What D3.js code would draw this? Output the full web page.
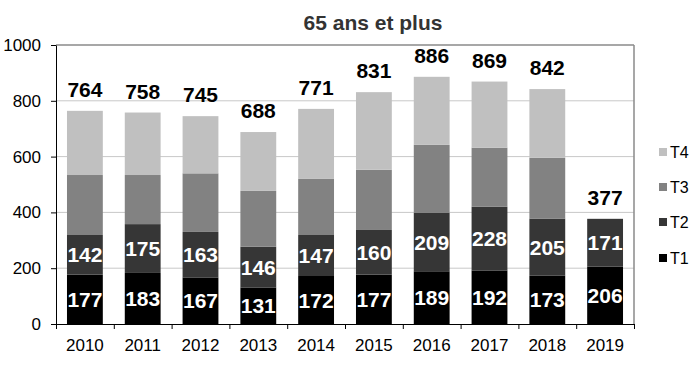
<!DOCTYPE html>
<html>
<head>
<meta charset="utf-8">
<script src="https://cdn.jsdelivr.net/npm/d3@7"></script>
<style>
  body { margin: 0; background: #fff; }
  svg { font-family: "Liberation Sans", Arial, sans-serif; }
  .tick text { fill: #000; }
</style>
</head>
<body>
<div id="chart"></div>
<script>
// données
const years = ["2010", "2011", "2012", "2013", "2014", "2015", "2016", "2017", "2018", "2019"];
const t1 = [177, 183, 167, 131, 172, 177, 189, 192, 173, 206];
const t2 = [142, 175, 163, 146, 147, 160, 209, 228, 205, 171];
const t3 = [215, 176, 210, 200, 201, 216, 244, 212, 218, 0];
const t4 = [230, 224, 205, 211, 251, 278, 244, 237, 246, 0];
const seriesNames = ["T1", "T2", "T3", "T4"];
const colors = ["#000000", "#363636", "#828282", "#c0c0c0"];
const yTicks = [0, 200, 400, 600, 800, 1000];

const width = 700, height = 380;
const margin = { top: 45, right: 66, bottom: 56, left: 56 };
const w = width - margin.left - margin.right;
const h = height - margin.top - margin.bottom;

const rows = years.map((y, i) => ({ year: y, T1: t1[i], T2: t2[i], T3: t3[i], T4: t4[i] }));
const stacked = d3.stack().keys(seriesNames)(rows);

const svg = d3.select("#chart").append("svg")
    .attr("width", width)
    .attr("height", height);

svg.append("text")
    .attr("x", 373)
    .attr("y", 30)
    .attr("text-anchor", "middle")
    .attr("font-size", 21)
    .attr("font-weight", "bold")
    .attr("fill", "#333")
    .text("65 ans et plus");

const g = svg.append("g").attr("transform", `translate(${margin.left},${margin.top})`);

const x = d3.scaleBand().domain(years).range([0, w]).paddingInner(0.38).paddingOuter(0.19);
const y = d3.scaleLinear().domain([0, 1000]).range([h, 0]);

// grille
g.selectAll(".grid")
    .data(yTicks.filter(d => d > 0 && d < 1000))
    .enter().append("line")
    .attr("x1", 0).attr("x2", w)
    .attr("y1", d => y(d)).attr("y2", d => y(d))
    .attr("stroke", "#c8c8c8");

// cadre gris
g.append("line").attr("x1", 0).attr("x2", w).attr("y1", y(1000)).attr("y2", y(1000))
    .attr("stroke", "#8a8a8a").attr("stroke-width", 1.5);
g.append("line").attr("x1", w).attr("x2", w).attr("y1", 0).attr("y2", h)
    .attr("stroke", "#8a8a8a").attr("stroke-width", 1.5);

// barres
g.selectAll(".layer")
    .data(stacked)
    .enter().append("g")
    .attr("fill", (d, i) => colors[i])
    .selectAll("rect")
    .data(d => d)
    .enter().append("rect")
    .attr("x", d => x(d.data.year))
    .attr("y", d => y(d[1]))
    .attr("width", x.bandwidth())
    .attr("height", d => y(d[0]) - y(d[1]));

// étiquettes T1 et T2
stacked.slice(0, 2).forEach(layer => {
    g.selectAll(null)
        .data(layer)
        .enter().append("text")
        .attr("x", d => x(d.data.year) + x.bandwidth() / 2)
        .attr("y", d => (y(d[0]) + y(d[1])) / 2)
        .attr("dy", "0.36em")
        .attr("text-anchor", "middle")
        .attr("font-size", 21)
        .attr("font-weight", "bold")
        .attr("fill", "#fff")
        .text(d => d[1] - d[0]);
});

// totaux
g.selectAll(".total")
    .data(stacked[3])
    .enter().append("text")
    .attr("x", d => x(d.data.year) + x.bandwidth() / 2)
    .attr("y", d => y(d[1]) - 14)
    .attr("text-anchor", "middle")
    .attr("font-size", 21)
    .attr("font-weight", "bold")
    .attr("fill", "#000")
    .text(d => d[1]);

// axe Y
const yAxis = g.append("g")
    .call(d3.axisLeft(y).tickValues(yTicks).tickFormat(d3.format("d"))
        .tickSize(5).tickSizeOuter(0).tickPadding(10));
yAxis.selectAll("text").attr("font-size", 17);
yAxis.select(".domain").attr("stroke", "#000");

// axe X : graduations entre les catégories
const xb = d3.scaleLinear().domain([0, years.length]).range([0, w]);
g.append("g")
    .attr("transform", `translate(0,${h})`)
    .call(d3.axisBottom(xb).ticks(years.length).tickSize(5).tickSizeOuter(0).tickFormat(""))
    .select(".domain").attr("stroke", "#000");

const xAxis = g.append("g")
    .attr("transform", `translate(0,${h})`)
    .call(d3.axisBottom(x).tickSize(0).tickPadding(15));
xAxis.select(".domain").remove();
xAxis.selectAll("text").attr("font-size", 17);

// légende
const legend = svg.append("g").attr("transform", "translate(659,0)");
const legendY = [258, 222, 187, 152];
seriesNames.forEach((name, i) => {
    legend.append("rect")
        .attr("x", 0).attr("y", legendY[i] - 4)
        .attr("width", 8).attr("height", 8)
        .attr("fill", colors[i]);
    legend.append("text")
        .attr("x", 11).attr("y", legendY[i])
        .attr("dy", "0.36em")
        .attr("font-size", 16)
        .text(name);
});
</script>
</body>
</html>
